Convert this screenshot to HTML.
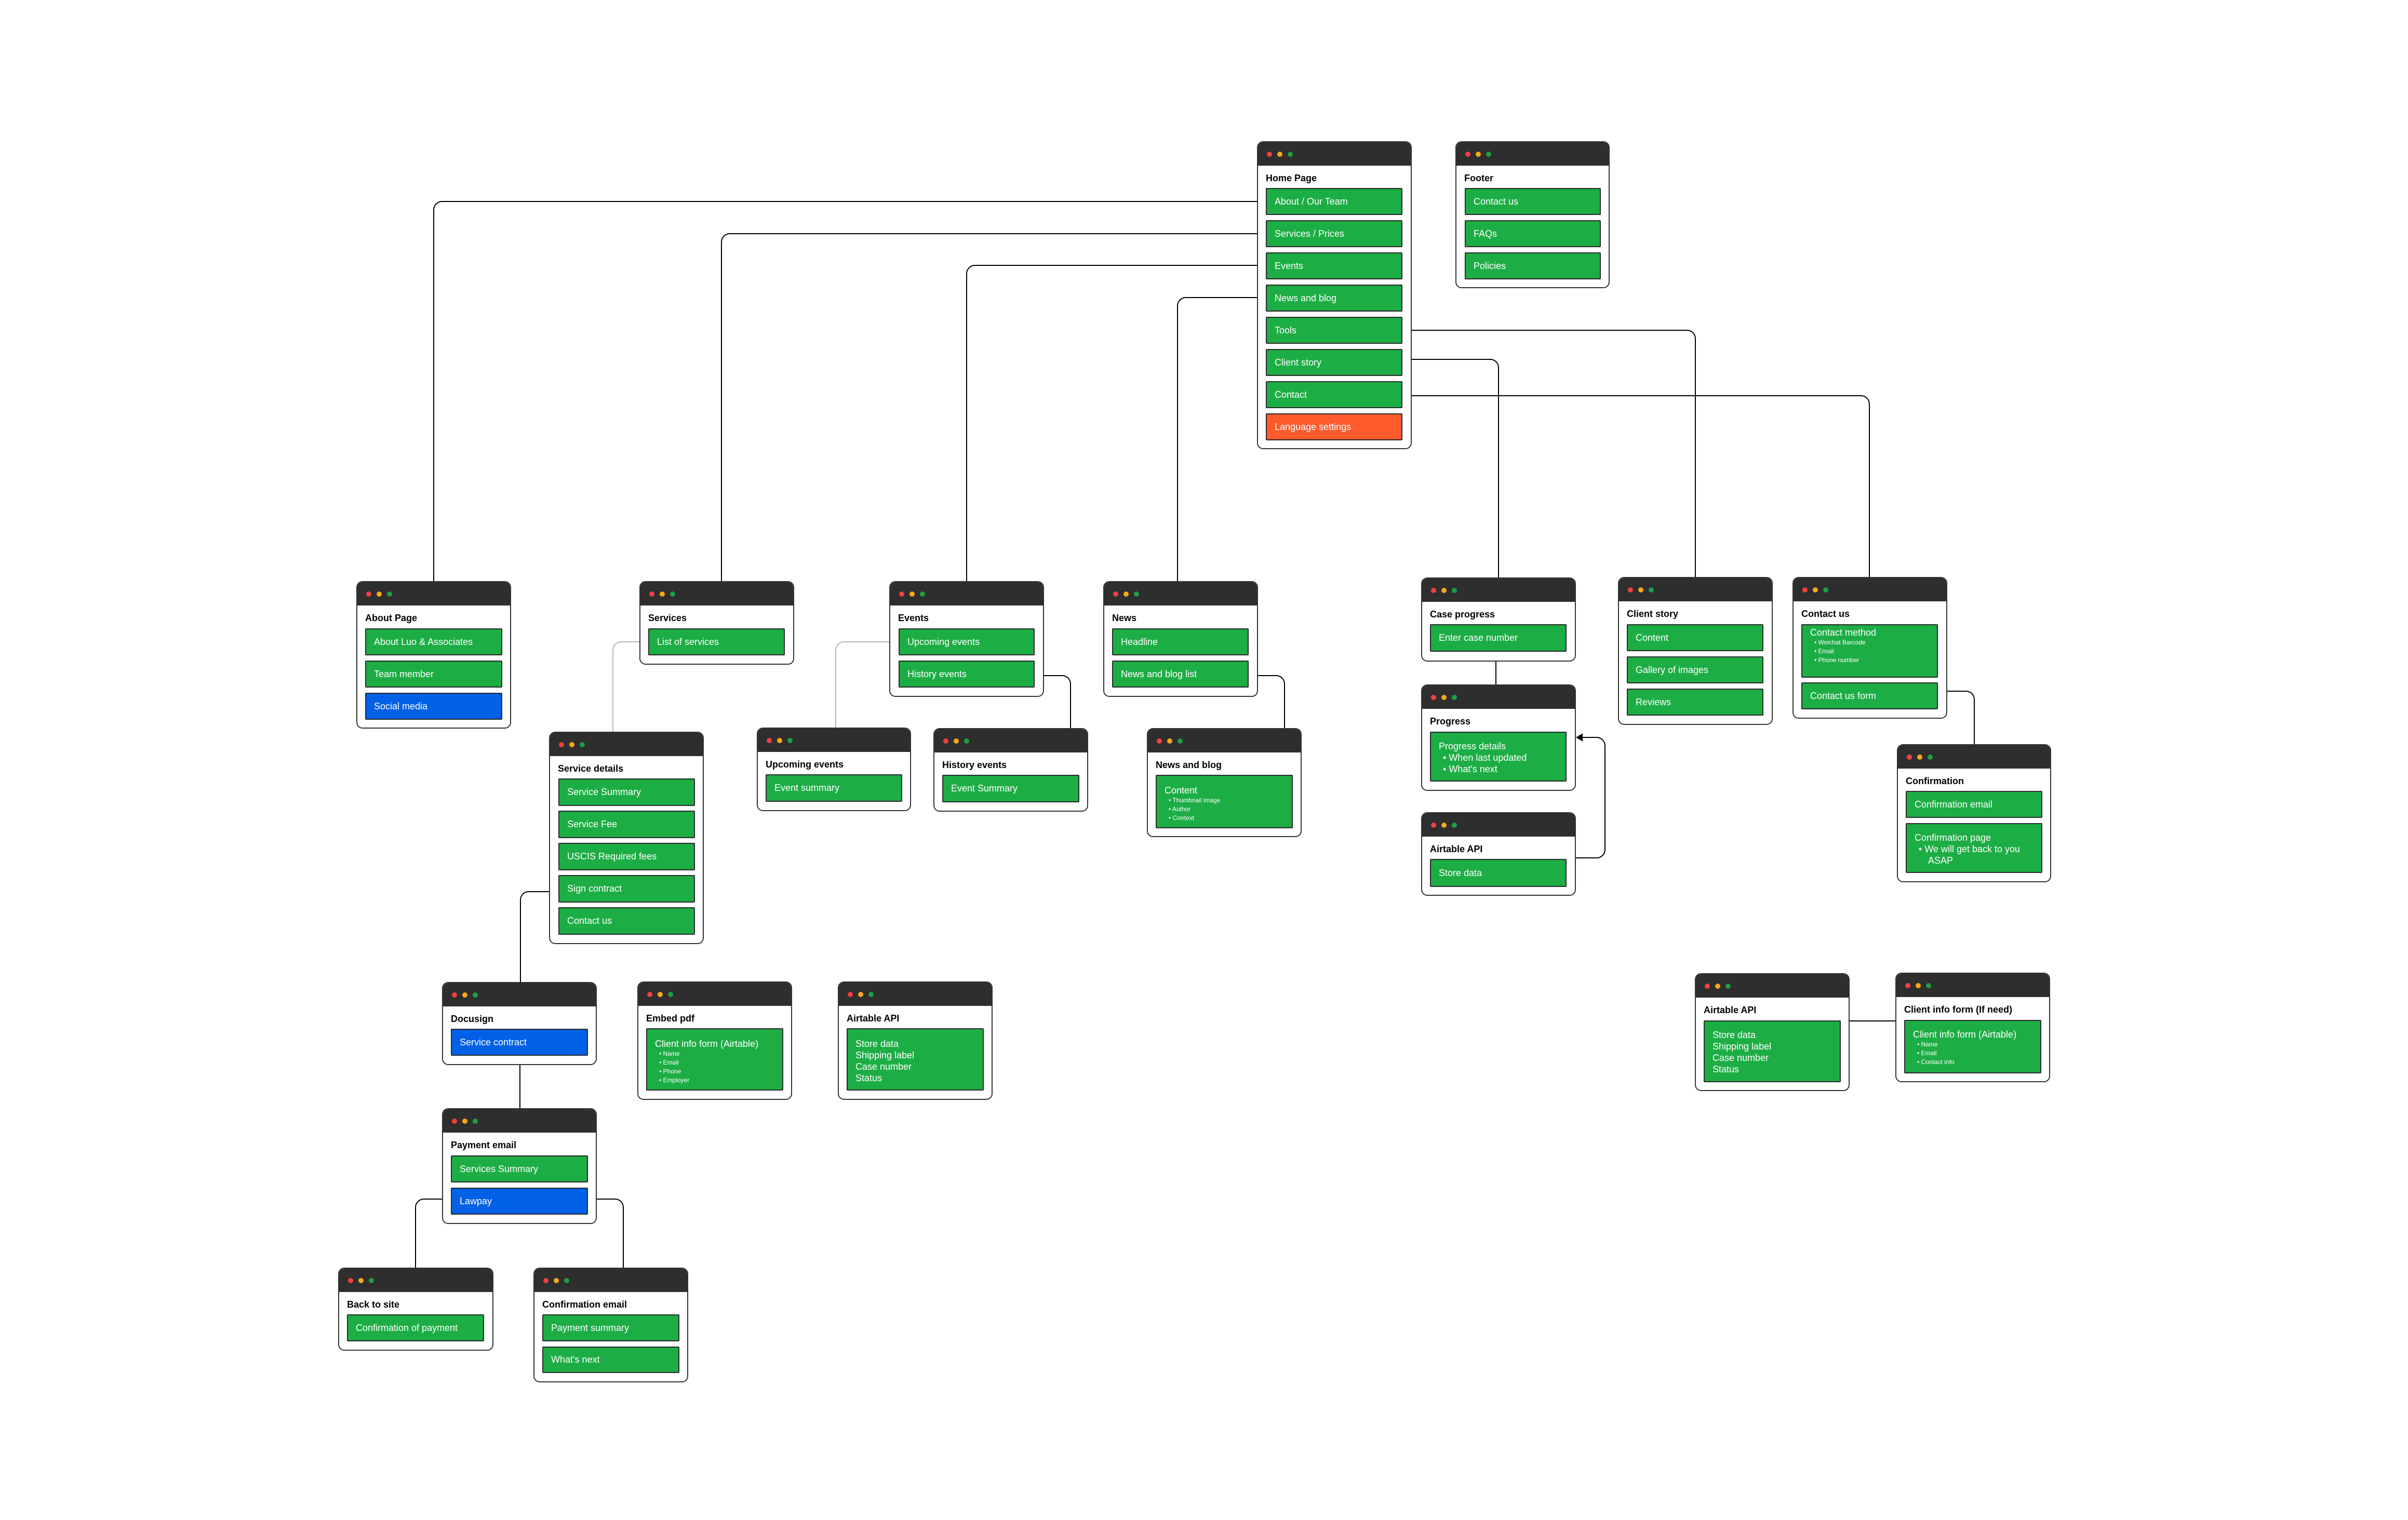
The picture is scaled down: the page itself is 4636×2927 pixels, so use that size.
<!DOCTYPE html>
<html><head><meta charset="utf-8"><style>
*{margin:0;padding:0;box-sizing:border-box}
body{width:4636px;height:2927px;background:#fff;position:relative;overflow:hidden;font-family:"Liberation Sans",sans-serif}
svg{position:absolute;left:0;top:0}
.b{position:absolute;background:#fff;border:2px solid #333;border-radius:12px;overflow:hidden}
.h{position:absolute;left:0;right:0;top:0;height:45px;background:#2e2e2e}
.d{position:absolute;top:18px;width:10px;height:10px;border-radius:50%}
.d1{left:17px;background:#f04040}.d2{left:37px;background:#f7a81b}.d3{left:57px;background:#1e9e45}
.t{position:absolute;top:57px;left:15px;font-weight:bold;font-size:18px;line-height:24px;color:#000;white-space:nowrap}
.i{position:absolute;background:#1dad45;border:2px solid #2a2a2a;border-radius:2px;color:#fff;font-size:18px;padding-left:15px;white-space:nowrap}
.s{display:flex;align-items:center}
.bl{background:#0060e6}.or{background:#ff5a2c}
.m{padding-top:13px;line-height:22px}
.m ul{list-style:none;font-size:12px;line-height:17px;padding-left:8px}
.m ul li:before{content:"• ";}
.m ul.big{font-size:18px;line-height:22px}
</style></head><body>
<svg width="4636" height="2927" fill="none" stroke="#000" stroke-width="2">
<path d="M2437 388H851A16 16 0 0 0 835 404V1119"/>
<path d="M2437 450H1405A16 16 0 0 0 1389 466V1119"/>
<path d="M2437 511H1877A16 16 0 0 0 1861 527V1119"/>
<path d="M2420 573H2283A16 16 0 0 0 2267 589V1119"/>
<path d="M2700 636H3248A16 16 0 0 1 3264 652V1111"/>
<path d="M2700 692H2869A16 16 0 0 1 2885 708V1112"/>
<path d="M2700 762H3583A16 16 0 0 1 3599 778V1111"/>
<path d="M1231 1236H1196A16 16 0 0 0 1180 1252V1409" stroke="#888" stroke-width="1.2"/>
<path d="M1712 1236H1625A16 16 0 0 0 1609 1252V1401" stroke="#888" stroke-width="1.2"/>
<path d="M2010 1301H2045A16 16 0 0 1 2061 1317V1402"/>
<path d="M2422 1301H2457A16 16 0 0 1 2473 1317V1402"/>
<path d="M2880 1274V1318"/>
<path d="M3034 1652H3074A16 16 0 0 0 3090 1636V1436A16 16 0 0 0 3074 1420H3044"/>
<path d="M3036 1420L3046 1414V1426Z" fill="#000"/>
<path d="M3749 1331H3785A16 16 0 0 1 3801 1347V1433"/>
<path d="M3561 1966H3649"/>
<path d="M1057 1717H1018A16 16 0 0 0 1002 1733V1891"/>
<path d="M1001 2051V2134"/>
<path d="M851 2309H816A16 16 0 0 0 800 2325V2441"/>
<path d="M1149 2309H1184A16 16 0 0 1 1200 2325V2441"/>
</svg>

<!-- boxes -->
<div class="b" style="left:2420px;top:272px;width:298px;height:593px"><div class="h"><i class="d d1"></i><i class="d d2"></i><i class="d d3"></i></div><div class="t">Home Page</div></div>
<div class="b" style="left:2802px;top:272px;width:297px;height:283px"><div class="h"><i class="d d1"></i><i class="d d2"></i><i class="d d3"></i></div><div class="t">Footer</div></div>
<div class="b" style="left:686px;top:1119px;width:298px;height:284px"><div class="h"><i class="d d1"></i><i class="d d2"></i><i class="d d3"></i></div><div class="t">About Page</div></div>
<div class="b" style="left:1231px;top:1119px;width:298px;height:161px"><div class="h"><i class="d d1"></i><i class="d d2"></i><i class="d d3"></i></div><div class="t">Services</div></div>
<div class="b" style="left:1712px;top:1119px;width:298px;height:223px"><div class="h"><i class="d d1"></i><i class="d d2"></i><i class="d d3"></i></div><div class="t">Events</div></div>
<div class="b" style="left:2124px;top:1119px;width:298px;height:223px"><div class="h"><i class="d d1"></i><i class="d d2"></i><i class="d d3"></i></div><div class="t">News</div></div>
<div class="b" style="left:2736px;top:1112px;width:298px;height:162px"><div class="h"><i class="d d1"></i><i class="d d2"></i><i class="d d3"></i></div><div class="t">Case progress</div></div>
<div class="b" style="left:3115px;top:1111px;width:298px;height:285px"><div class="h"><i class="d d1"></i><i class="d d2"></i><i class="d d3"></i></div><div class="t">Client story</div></div>
<div class="b" style="left:3451px;top:1111px;width:298px;height:273px"><div class="h"><i class="d d1"></i><i class="d d2"></i><i class="d d3"></i></div><div class="t">Contact us</div></div>
<div class="b" style="left:2736px;top:1318px;width:298px;height:205px"><div class="h"><i class="d d1"></i><i class="d d2"></i><i class="d d3"></i></div><div class="t">Progress</div></div>
<div class="b" style="left:2736px;top:1564px;width:298px;height:161px"><div class="h"><i class="d d1"></i><i class="d d2"></i><i class="d d3"></i></div><div class="t">Airtable API</div></div>
<div class="b" style="left:3652px;top:1433px;width:297px;height:266px"><div class="h"><i class="d d1"></i><i class="d d2"></i><i class="d d3"></i></div><div class="t">Confirmation</div></div>
<div class="b" style="left:3263px;top:1874px;width:298px;height:227px"><div class="h"><i class="d d1"></i><i class="d d2"></i><i class="d d3"></i></div><div class="t">Airtable API</div></div>
<div class="b" style="left:3649px;top:1873px;width:298px;height:211px"><div class="h"><i class="d d1"></i><i class="d d2"></i><i class="d d3"></i></div><div class="t">Client info form (If need)</div></div>
<div class="b" style="left:1057px;top:1409px;width:298px;height:409px"><div class="h"><i class="d d1"></i><i class="d d2"></i><i class="d d3"></i></div><div class="t">Service details</div></div>
<div class="b" style="left:1457px;top:1401px;width:297px;height:161px"><div class="h"><i class="d d1"></i><i class="d d2"></i><i class="d d3"></i></div><div class="t">Upcoming events</div></div>
<div class="b" style="left:1797px;top:1402px;width:298px;height:161px"><div class="h"><i class="d d1"></i><i class="d d2"></i><i class="d d3"></i></div><div class="t">History events</div></div>
<div class="b" style="left:2208px;top:1402px;width:298px;height:210px"><div class="h"><i class="d d1"></i><i class="d d2"></i><i class="d d3"></i></div><div class="t">News and blog</div></div>
<div class="b" style="left:851px;top:1891px;width:298px;height:160px"><div class="h"><i class="d d1"></i><i class="d d2"></i><i class="d d3"></i></div><div class="t">Docusign</div></div>
<div class="b" style="left:1227px;top:1890px;width:298px;height:228px"><div class="h"><i class="d d1"></i><i class="d d2"></i><i class="d d3"></i></div><div class="t">Embed pdf</div></div>
<div class="b" style="left:1613px;top:1890px;width:298px;height:228px"><div class="h"><i class="d d1"></i><i class="d d2"></i><i class="d d3"></i></div><div class="t">Airtable API</div></div>
<div class="b" style="left:851px;top:2134px;width:298px;height:223px"><div class="h"><i class="d d1"></i><i class="d d2"></i><i class="d d3"></i></div><div class="t">Payment email</div></div>
<div class="b" style="left:651px;top:2441px;width:299px;height:160px"><div class="h"><i class="d d1"></i><i class="d d2"></i><i class="d d3"></i></div><div class="t">Back to site</div></div>
<div class="b" style="left:1027px;top:2441px;width:298px;height:221px"><div class="h"><i class="d d1"></i><i class="d d2"></i><i class="d d3"></i></div><div class="t">Confirmation email</div></div>

<!-- items -->
<div class="i s" style="left:2437px;top:362px;width:263px;height:52px">About / Our Team</div>
<div class="i s" style="left:2437px;top:424px;width:263px;height:52px">Services / Prices</div>
<div class="i s" style="left:2437px;top:486px;width:263px;height:52px">Events</div>
<div class="i s" style="left:2437px;top:548px;width:263px;height:52px">News and blog</div>
<div class="i s" style="left:2437px;top:610px;width:263px;height:52px">Tools</div>
<div class="i s" style="left:2437px;top:672px;width:263px;height:52px">Client story</div>
<div class="i s" style="left:2437px;top:734px;width:263px;height:52px">Contact</div>
<div class="i s or" style="left:2437px;top:796px;width:263px;height:52px">Language settings</div>

<div class="i s" style="left:2820px;top:362px;width:262px;height:52px">Contact us</div>
<div class="i s" style="left:2820px;top:424px;width:262px;height:52px">FAQs</div>
<div class="i s" style="left:2820px;top:486px;width:262px;height:52px">Policies</div>

<div class="i s" style="left:703px;top:1210px;width:264px;height:52px">About Luo &amp; Associates</div>
<div class="i s" style="left:703px;top:1272px;width:264px;height:52px">Team member</div>
<div class="i s bl" style="left:703px;top:1334px;width:264px;height:52px">Social media</div>

<div class="i s" style="left:1248px;top:1210px;width:263px;height:52px">List of services</div>

<div class="i s" style="left:1730px;top:1210px;width:262px;height:52px">Upcoming events</div>
<div class="i s" style="left:1730px;top:1272px;width:262px;height:52px">History events</div>

<div class="i s" style="left:2141px;top:1210px;width:263px;height:52px">Headline</div>
<div class="i s" style="left:2141px;top:1272px;width:263px;height:52px">News and blog list</div>

<div class="i s" style="left:2753px;top:1202px;width:263px;height:53px">Enter case number</div>

<div class="i s" style="left:3132px;top:1202px;width:263px;height:52px">Content</div>
<div class="i s" style="left:3132px;top:1264px;width:263px;height:52px">Gallery of images</div>
<div class="i s" style="left:3132px;top:1326px;width:263px;height:52px">Reviews</div>

<div class="i m" style="left:3468px;top:1202px;width:263px;height:103px;padding-top:3px">Contact method<ul><li>Weichat Barcode</li><li>Email</li><li>Phone number</li></ul></div>
<div class="i s" style="left:3468px;top:1314px;width:263px;height:52px">Contact us form</div>

<div class="i m" style="left:2753px;top:1409px;width:263px;height:96px;padding-top:15px">Progress details<ul class="big"><li>When last updated</li><li>What's next</li></ul></div>

<div class="i s" style="left:2753px;top:1654px;width:263px;height:54px">Store data</div>

<div class="i s" style="left:3669px;top:1523px;width:263px;height:52px">Confirmation email</div>
<div class="i m" style="left:3669px;top:1585px;width:263px;height:96px;padding-top:15px;white-space:normal">Confirmation page<ul class="big" style="padding-left:8px"><li style="padding-left:18px;text-indent:-18px">We will get back to you ASAP</li></ul></div>

<div class="i m" style="left:3280px;top:1965px;width:264px;height:119px;padding-top:15px">Store data<br>Shipping label<br>Case number<br>Status</div>

<div class="i m" style="left:3666px;top:1964px;width:264px;height:103px;padding-top:15px">Client info form (Airtable)<ul><li>Name</li><li>Email</li><li>Contact info</li></ul></div>

<div class="i s" style="left:1075px;top:1499px;width:263px;height:53px">Service Summary</div>
<div class="i s" style="left:1075px;top:1561px;width:263px;height:53px">Service Fee</div>
<div class="i s" style="left:1075px;top:1623px;width:263px;height:53px">USCIS Required fees</div>
<div class="i s" style="left:1075px;top:1685px;width:263px;height:53px">Sign contract</div>
<div class="i s" style="left:1075px;top:1747px;width:263px;height:53px">Contact us</div>

<div class="i s" style="left:1474px;top:1491px;width:263px;height:53px">Event summary</div>
<div class="i s" style="left:1814px;top:1492px;width:264px;height:53px">Event Summary</div>

<div class="i m" style="left:2225px;top:1492px;width:264px;height:103px;padding-top:17px">Content<ul><li>Thumbnail image</li><li>Author</li><li>Context</li></ul></div>

<div class="i s bl" style="left:868px;top:1981px;width:264px;height:52px">Service contract</div>

<div class="i m" style="left:1244px;top:1980px;width:264px;height:120px;padding-top:17px">Client info form (Airtable)<ul><li>Name</li><li>Email</li><li>Phone</li><li>Employer</li></ul></div>

<div class="i m" style="left:1630px;top:1980px;width:264px;height:120px;padding-top:17px">Store data<br>Shipping label<br>Case number<br>Status</div>

<div class="i s" style="left:868px;top:2225px;width:264px;height:52px">Services Summary</div>
<div class="i s bl" style="left:868px;top:2287px;width:264px;height:52px">Lawpay</div>

<div class="i s" style="left:668px;top:2531px;width:264px;height:52px">Confirmation of payment</div>

<div class="i s" style="left:1044px;top:2531px;width:264px;height:52px">Payment summary</div>
<div class="i s" style="left:1044px;top:2593px;width:264px;height:51px">What's next</div>
</body></html>
